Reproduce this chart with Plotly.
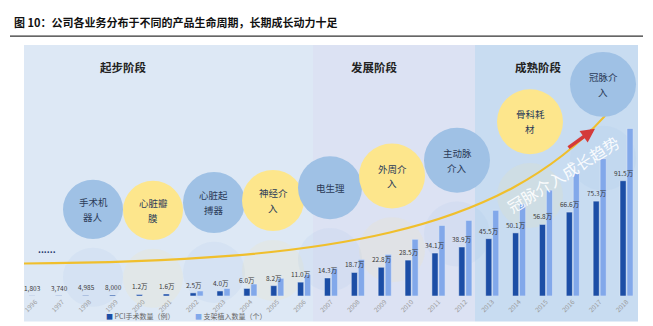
import plotly.graph_objects as go

# ---- data ----
years = [str(y) for y in range(1996, 2019)]
pci_cases = [1803, 3740, 4985, 8000, 12000, 16000, 25000, 40000, 60000, 82000,
             110000, 143000, 187000, 228000, 285000, 341000, 389000, 455000,
             501000, 568000, 666000, 753000, 915000]
stent_units = [None, None, None, None, None, None, 40000, 60000, 95000, 140000,
               170000, 220000, 290000, 330000, 450000, 560000, 600000, 680000,
               730000, 840000, 980000, 1090000, 1330000]

stages = ["起步阶段", "发展阶段", "成熟阶段"]
businesses = [("手术机", "器人"), ("心脏瓣", "膜"), ("心脏起", "搏器"), ("神经介", "入"),
              ("电生理",), ("外周介", "入"), ("主动脉", "介入"), ("骨科耗", "材"), ("冠脉介", "入")]

FONT = "Noto Sans CJK SC"
W_FIG, H_FIG = 653, 326
L, R, T, B = 22, 13, 45, 26
PW, PH = W_FIG - L - R, H_FIG - T - B


def px(x):
    return (x - L) / PW


def py(y):
    return (T + PH - y) / PH


def fmt(v):
    return f"{v:,}" if v < 10000 else f"{v / 1e4:.1f}万"


DARK = "#1c4ea6"
LIGHT = "#82a8ea"
BLUE_B = "#9fc1e5"
YELLOW_B = "#fde68c"

fig = go.Figure()
fig.add_trace(go.Bar(x=years, y=pci_cases, name="PCI手术数量（例）",
                     marker_color=DARK, showlegend=False))
fig.add_trace(go.Bar(x=years, y=stent_units, name="支架植入数量（个）",
                     marker_color=LIGHT, showlegend=False))

shapes = []
# stage panels
for x0, x1, col in [(24, 313, "#dde8f5"), (313, 475, "#dce2f3"), (475, 638, "#c8dcf1")]:
    shapes.append(dict(type="rect", xref="paper", yref="paper",
                       x0=px(x0), x1=px(x1), y0=py(326), y1=py(45),
                       fillcolor=col, line_width=0, layer="below"))

# title rule
shapes.append(dict(type="line", xref="paper", yref="paper",
                   x0=px(10), x1=px(643), y0=py(36), y1=py(36),
                   line=dict(color="#333333", width=1.2)))

# business bubbles
bubble_pos = [(93, 212, 30, BLUE_B), (153, 213, 30, YELLOW_B), (214, 205, 31, BLUE_B),
              (273, 203, 31, YELLOW_B), (330, 190, 32, BLUE_B), (392, 178, 33, YELLOW_B),
              (457, 162, 33, BLUE_B), (530, 123, 33, YELLOW_B), (603, 85, 33, BLUE_B)]

# faint reflections under each bubble
for cx, cy, r, col in bubble_pos:
    ry = cy + 2 * r + 9
    shapes.append(dict(type="circle", xref="paper", yref="paper",
                       x0=px(cx - r), x1=px(cx + r), y0=py(ry + r), y1=py(ry - r),
                       fillcolor=col, opacity=0.12, line_width=0, layer="below"))

# growth curve
p = [(24, 267), (330, 265), (500, 235), (605, 117)]
path = "M {},{} C {},{} {},{} {},{}".format(*[v for pt in p for v in (px(pt[0]), py(pt[1]))])
shapes.append(dict(type="path", xref="paper", yref="paper", path=path,
                   line=dict(color="#f0bf2c", width=2.2), layer="below"))

for cx, cy, r, col in bubble_pos:
    shapes.append(dict(type="circle", xref="paper", yref="paper",
                       x0=px(cx - r), x1=px(cx + r), y0=py(cy + r), y1=py(cy - r),
                       fillcolor=col, line_width=0, layer="below"))


def note(text, x, y, size, color, **kw):
    d = dict(text=text, x=px(x), y=py(y), xref="paper", yref="paper",
             xanchor="center", yanchor="middle", showarrow=False,
             font=dict(size=size, color=color, family=FONT))
    d.update(kw)
    return d


annotations = [
    note("<b>图 10：公司各业务分布于不同的产品生命周期，长期成长动力十足</b>", 12, 22, 11, "#111111",
         xanchor="left"),
]
for name, (cx, cy) in zip(stages, [(123, 67), (374, 67), (538, 67)]):
    annotations.append(note(f"<b>{name}</b>", cx, cy, 11.5, "#222222"))

# bubble captions, one annotation per line
for lines, (cx, cy, r, col) in zip(businesses, bubble_pos):
    n = len(lines)
    for k, line in enumerate(lines):
        ly = cy + (k - (n - 1) / 2) * 15
        annotations.append(note(line, cx, ly, 9.5, "#2b3b58"))

# value labels above the PCI bars, drawn on top of both bar series
# (x given as the category index of each year)
for i, v in enumerate(pci_cases):
    annotations.append(dict(text=fmt(v), x=i, y=v, xref="x", yref="y",
                            xanchor="center", yanchor="bottom", xshift=-3, yshift=1,
                            showarrow=False,
                            font=dict(size=6.5, color="#3a3a3a", family=FONT)))

annotations += [
    note("<b>......</b>", 47, 253, 9, "#1f3a6e"),
    note("冠脉介入成长趋势", 563, 176, 16, "rgba(255,255,255,0.92)", textangle=-32),
    dict(text="", x=px(595), y=py(130), xref="paper", yref="paper",
         ax=-28, ay=20, showarrow=True, arrowhead=2, arrowsize=0.8,
         arrowwidth=3.5, arrowcolor="#d43a3a"),
    note(f"<span style='color:{DARK}'>■</span> PCI手术数量（例）", 104, 320, 7, "#666666",
         xanchor="left"),
    note(f"<span style='color:{LIGHT}'>■</span> 支架植入数量（个）", 193, 320, 7, "#666666",
         xanchor="left"),
]

fig.update_layout(
    width=W_FIG, height=H_FIG,
    margin=dict(l=L, r=R, t=T, b=B),
    paper_bgcolor="white", plot_bgcolor="rgba(0,0,0,0)",
    barmode="group", bargap=0.48, bargroupgap=0.12,
    font=dict(family=FONT),
    shapes=shapes, annotations=annotations,
    xaxis=dict(type="category", showgrid=False, showline=False, ticks="",
               range=[-0.5, len(years) - 0.5],
               tickangle=-45, tickfont=dict(size=6.5, color="#9a9a9a", family=FONT)),
    yaxis=dict(visible=False, range=[0, 1992000]),
)

fig.write_html("out.html")
